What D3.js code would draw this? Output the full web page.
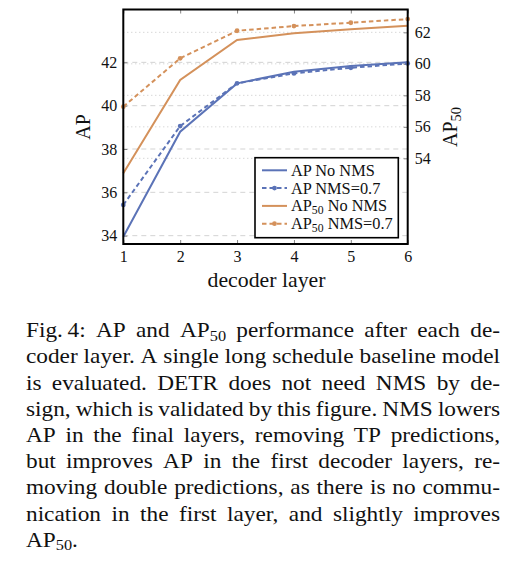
<!DOCTYPE html>
<html><head><meta charset="utf-8">
<script src="https://cdn.jsdelivr.net/npm/d3@7"></script>
<style>body{margin:0;background:#fff}svg{display:block}svg text{font-family:"Liberation Serif","DejaVu Serif",serif}</style>
</head><body>
<svg id="c" width="510" height="568"></svg>
<script>
// ---- data ----
const layers = [1, 2, 3, 4, 5, 6];
const apNoNMS = [33.95, 38.80, 41.03, 41.57, 41.83, 42.00];
const apNMS = [35.42, 39.06, 41.03, 41.49, 41.75, 41.95];
const ap50NoNMS = [53.05, 58.97, 61.51, 61.94, 62.19, 62.42];
const ap50NMS = [57.28, 60.35, 62.10, 62.40, 62.61, 62.84];
const xTicks = [1, 2, 3, 4, 5, 6];
const leftTicks = [34, 36, 38, 40, 42];
const rightTicks = [54, 56, 58, 60, 62];
const legendLabels = ["AP No NMS", "AP NMS=0.7", "AP_{50} No NMS", "AP_{50} NMS=0.7"];
const xLabel = "decoder layer";
const yLeftLabel = "AP";
const yRightLabel = "AP_{50}";
const captionLines = [
  "Fig.\u20094: AP and AP_{50} performance after each de-",
  "coder layer. A single long schedule baseline model",
  "is evaluated. DETR does not need NMS by de-",
  "sign, which is validated by this figure. NMS lowers",
  "AP in the final layers, removing TP predictions,",
  "but improves AP in the first decoder layers, re-",
  "moving double predictions, as there is no commu-",
  "nication in the first layer, and slightly improves",
  "AP_{50}."
];

// ---- layout ----
const FONT = "'Liberation Serif','DejaVu Serif',serif";
const BLUE = "#5b73b7", ORANGE = "#d4915b";
const SX = 1.165; // horizontal widening to mimic the reference typeface
const m = {l: 123.3, r: 407.7, t: 9.5, b: 244};
const svg = d3.select("#c").attr("font-family", FONT);

const x = d3.scaleLinear().domain([1, 6]).range([m.l, m.r]);
const yL = d3.scaleLinear().domain([33.615, 44.44]).range([m.b, m.t]);
const yR = d3.scaleLinear().domain([48.56, 63.45]).range([m.b, m.t]);

function rich(sel, str, subScale, shift) {
  const parts = str.split(/_\{([^}]*)\}/);
  let down = false;
  parts.forEach((p, i) => {
    const isSub = i % 2 === 1;
    if (!p) return;
    const t = sel.append("tspan").text(p);
    if (isSub) {
      t.attr("font-size", subScale + "em").attr("dy", shift + "px");
      down = true;
    } else if (down) {
      t.attr("dy", (-shift) + "px");
      down = false;
    }
  });
}

// grid
svg.append("g").selectAll("line").data(leftTicks).join("line")
  .attr("x1", m.l).attr("x2", m.r)
  .attr("y1", d => yL(d)).attr("y2", d => yL(d))
  .attr("stroke", "#c8c8c8").attr("stroke-width", 0.8).attr("stroke-dasharray", "5,4");
svg.append("g").selectAll("line").data(rightTicks).join("line")
  .attr("x1", m.l).attr("x2", m.r)
  .attr("y1", d => yR(d)).attr("y2", d => yR(d))
  .attr("stroke", "#b8b8b8").attr("stroke-width", 0.8).attr("stroke-dasharray", "1,3");

// axes
function styleAxis(g) {
  g.attr("font-family", FONT);
  g.select(".domain").remove();
  g.selectAll(".tick line").attr("stroke", "#666").attr("stroke-width", 0.8);
  g.selectAll(".tick text").attr("font-size", 16).attr("fill", "#111");
}
svg.append("g").attr("transform", `translate(${m.l},0)`)
  .call(d3.axisLeft(yL).tickValues(leftTicks).tickSize(-4).tickPadding(6)).call(styleAxis);
svg.append("g").attr("transform", `translate(${m.r},0)`)
  .call(d3.axisRight(yR).tickValues(rightTicks).tickSize(-4).tickPadding(7)).call(styleAxis);
svg.append("g").attr("transform", `translate(0,${m.b})`)
  .call(d3.axisBottom(x).tickValues(xTicks).tickFormat(d3.format("d")).tickSize(-4).tickPadding(6.5)).call(styleAxis);
svg.append("g").attr("transform", `translate(0,${m.t})`)
  .call(d3.axisTop(x).tickValues(xTicks).tickFormat("").tickSize(-4)).call(styleAxis);

// series
const series = [
  {vals: apNoNMS, y: yL, color: BLUE, dashed: false},
  {vals: apNMS, y: yL, color: BLUE, dashed: true},
  {vals: ap50NoNMS, y: yR, color: ORANGE, dashed: false},
  {vals: ap50NMS, y: yR, color: ORANGE, dashed: true}
];
const plot = svg.append("g");
series.forEach(s => {
  const line = d3.line().x((d, i) => x(layers[i])).y(d => s.y(d));
  plot.append("path").attr("d", line(s.vals)).attr("fill", "none")
    .attr("stroke", s.color).attr("stroke-width", 2)
    .attr("stroke-dasharray", s.dashed ? "4.5,3" : null);
  if (s.dashed) {
    plot.append("g").selectAll("circle").data(s.vals).join("circle")
      .attr("cx", (d, i) => x(layers[i])).attr("cy", d => s.y(d)).attr("r", 2.4)
      .attr("fill", s.color);
  }
});

// frame
svg.append("rect").attr("x", m.l).attr("y", m.t).attr("width", m.r - m.l).attr("height", m.b - m.t)
  .attr("fill", "none").attr("stroke", "#000").attr("stroke-width", 2);

// legend
const lg = svg.append("g");
lg.append("rect").attr("x", 255).attr("y", 157.7).attr("width", 143.3).attr("height", 80)
  .attr("fill", "#fff").attr("stroke", "#000").attr("stroke-width", 1.6);
const rowY = d3.scalePoint().domain(d3.range(legendLabels.length)).range([170.3, 223.7]);
legendLabels.forEach((lab, i) => {
  const s = series[i], yy = rowY(i);
  lg.append("line").attr("x1", 262).attr("x2", 287).attr("y1", yy).attr("y2", yy)
    .attr("stroke", s.color).attr("stroke-width", 2)
    .attr("stroke-dasharray", s.dashed ? "4.5,3" : null);
  if (s.dashed) lg.append("circle").attr("cx", 274.5).attr("cy", yy).attr("r", 2.4).attr("fill", s.color);
  const t = lg.append("text").attr("transform", `translate(291,${yy + 5.5}) scale(1.02,1)`)
    .attr("font-size", 16).attr("fill", "#111");
  rich(t, lab, 0.72, 3);
});

// axis labels
svg.append("text").attr("transform", `translate(${(m.l + m.r) / 2 + 1},286.7) scale(1.09,1)`)
  .attr("text-anchor", "middle").attr("font-size", 20).attr("fill", "#111").text(xLabel);
svg.append("text").attr("transform", `translate(90,127) rotate(-90)`).attr("text-anchor", "middle")
  .attr("font-size", 20).attr("fill", "#111").text(yLeftLabel);
const rl = svg.append("text").attr("transform", `translate(457.3,127) rotate(-90)`).attr("text-anchor", "middle")
  .attr("font-size", 20).attr("fill", "#111");
rich(rl, yRightLabel, 0.72, 4);

// caption (justified, widened to mimic the LaTeX typeface)
const cap = svg.append("g").attr("font-size", 20).attr("fill", "#111")
  .attr("transform", `scale(${SX},1)`);
const capL = 26 / SX, capR = 500 / SX, base0 = 337.3, lh = 26.2;
captionLines.forEach((ln, li) => {
  const yy = base0 + li * lh;
  const last = li === captionLines.length - 1;
  const words = ln.split(" ");
  const els = words.map(w => {
    const t = cap.append("text").attr("y", yy);
    rich(t, w, 0.7, 3.5);
    return t;
  });
  const widths = els.map(e => e.node().getComputedTextLength());
  const total = d3.sum(widths);
  const gap = (last || words.length < 2) ? 5 : (capR - capL - total) / (words.length - 1);
  let cx = capL;
  els.forEach((e, i) => { e.attr("x", cx); cx += widths[i] + gap; });
});
</script>
</body></html>
